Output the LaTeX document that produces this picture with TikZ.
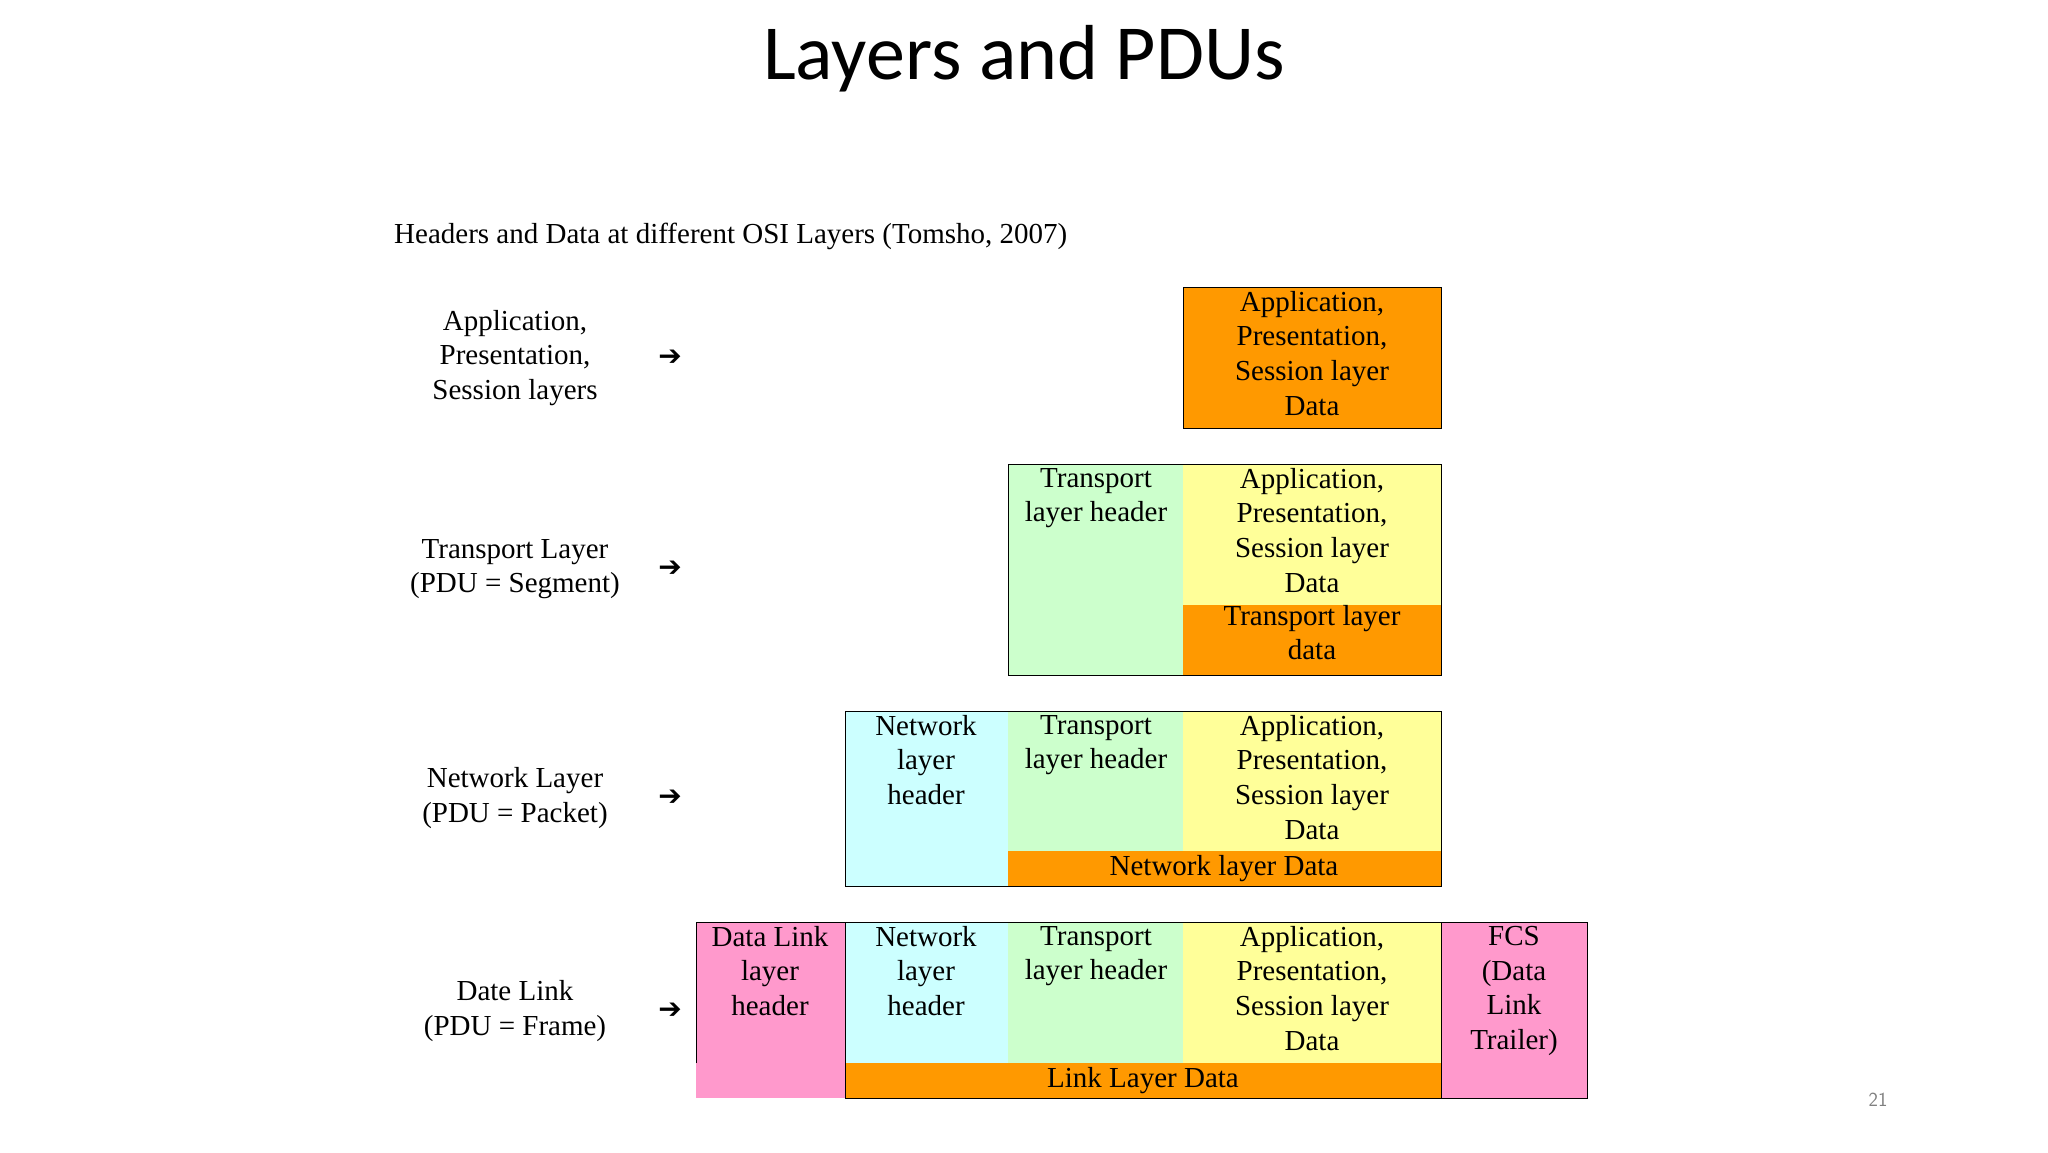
\documentclass[tikz,border=0pt]{standalone}
\usepackage{fontspec}
\setmainfont{Liberation Serif}
\newfontfamily\ttl{Carlito}
\newfontfamily\dv{DejaVu Sans}
\definecolor{cor}{HTML}{FF9900}
\definecolor{cye}{HTML}{FFFF99}
\definecolor{cgr}{HTML}{CCFFCC}
\definecolor{ccy}{HTML}{CCFFFF}
\definecolor{cpk}{HTML}{FF99CC}
\begin{document}
\begin{tikzpicture}[x=1pt,y=-1pt,
  txt/.style={font=\fontsize{29}{34.6}\selectfont,align=center,inner sep=0pt},
  cell/.style={anchor=north,txt},
  lbl/.style={txt},
  arr/.style={font=\dv\fontsize{28}{30}\selectfont,inner sep=0pt}]
\useasboundingbox (0,0) rectangle (2048,1152);
\node[font=\ttl\fontsize{78}{80}\selectfont] (title) at (1024,59) {Layers and PDUs};
\node[txt,anchor=west] (sub) at (394,236) {Headers and Data at different OSI Layers (Tomsho, 2007)};
\node[font=\sffamily\fontsize{20}{22}\selectfont,text=gray] (pg) at (1878,1100) {21};
% left labels
\node[lbl] (l1) at (515,358) {Application,\\Presentation,\\Session layers};
\node[lbl] (l2) at (515,569) {Transport Layer\\(PDU = Segment)};
\node[lbl] (l3) at (515,798) {Network Layer\\(PDU = Packet)};
\node[lbl] (l4) at (515,1011) {Date Link\\(PDU = Frame)};
\node[arr] (a1) at (670,358) {➔};
\node[arr] (a2) at (670,569) {➔};
\node[arr] (a3) at (670,798) {➔};
\node[arr] (a4) at (670,1011) {➔};
% row 1
\fill[cor] (1183,287) rectangle (1441,428);
\draw[thick] (1183,287) rectangle (1441,428);
\node[cell] (r1a) at (1312,291) {Application,\\Presentation,\\Session layer\\Data};
% row 2
\fill[cgr] (1008,464) rectangle (1183,675);
\fill[cye] (1183,464) rectangle (1441,605);
\fill[cor] (1183,605) rectangle (1441,675);
\draw[thick] (1008,464) rectangle (1441,675);
\node[cell] (r2t) at (1096,468) {Transport\\layer header};
\node[cell] (r2a) at (1312,468) {Application,\\Presentation,\\Session layer\\Data};
\node[cell] (r2d) at (1312,605) {Transport layer\\data};
% row 3
\fill[ccy] (845,711) rectangle (1008,886);
\fill[cgr] (1008,711) rectangle (1183,851);
\fill[cye] (1183,711) rectangle (1441,851);
\fill[cor] (1008,851) rectangle (1441,886);
\draw[thick] (845,711) rectangle (1441,886);
\node[cell] (r3n) at (926,715) {Network\\layer\\header};
\node[cell] (r3t) at (1096,715) {Transport\\layer header};
\node[cell] (r3a) at (1312,715) {Application,\\Presentation,\\Session layer\\Data};
\node[txt] (r3d) at (1224,869) {Network layer Data};
% row 4
\fill[cpk] (696,922) rectangle (845,1098);
\fill[ccy] (845,922) rectangle (1008,1063);
\fill[cgr] (1008,922) rectangle (1183,1063);
\fill[cye] (1183,922) rectangle (1441,1063);
\fill[cor] (845,1063) rectangle (1441,1098);
\fill[cpk] (1441,922) rectangle (1587,1098);
\draw[thick] (696,1063) -- (696,922) -- (1587,922) -- (1587,1098) -- (845,1098) -- (845,922);
\draw[thick] (1441,922) -- (1441,1098);
\node[cell] (r4l) at (770,926) {Data Link\\layer\\header};
\node[cell] (r4n) at (926,926) {Network\\layer\\header};
\node[cell] (r4t) at (1096,926) {Transport\\layer header};
\node[cell] (r4a) at (1312,926) {Application,\\Presentation,\\Session layer\\Data};
\node[txt] (r4d) at (1143,1081) {Link Layer Data};
\node[cell] (r4f) at (1514,926) {FCS\\(Data\\Link\\Trailer)};
\end{tikzpicture}
\end{document}
